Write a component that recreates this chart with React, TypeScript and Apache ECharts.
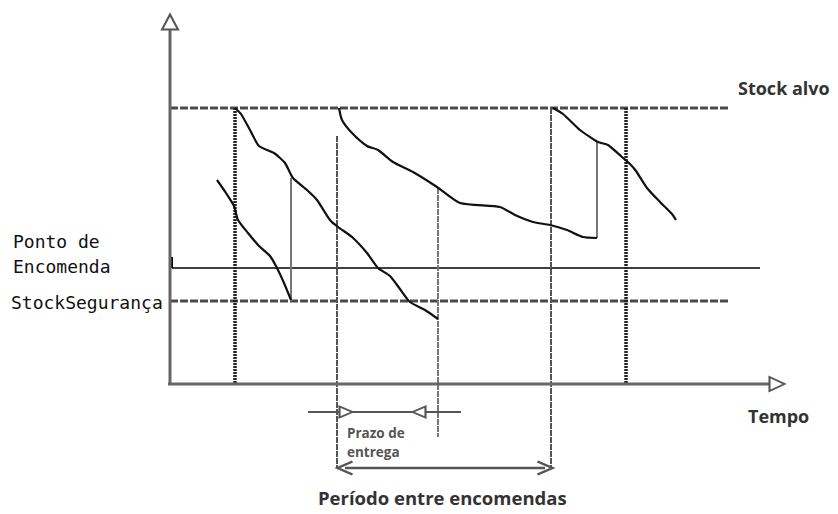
import React, { useEffect, useRef } from "react";
import * as echarts from "echarts";

// Units: time (x) from the stock axis, stock level (y) from the time axis
const STOCK_ALVO = 276;
const PONTO_ENCOMENDA = 116;
const STOCK_SEGURANCA = 83;

const curveA = [[47, 204], [56, 191], [64, 178], [68, 164], [78, 151], [89, 138], [100, 128], [107, 116], [114, 101], [121, 84]];
const curveB = [[65, 276], [71, 270], [80, 254], [89, 238], [104, 231], [115, 221], [123, 206], [137, 194], [147, 184], [160, 164], [168, 157], [182, 147], [197, 131], [208, 116], [220, 108], [230, 95], [240, 82], [255, 74], [268, 65]];
const curveC = [[169, 276], [172, 264], [182, 251], [197, 238], [208, 234], [223, 222], [243, 212], [267, 197], [290, 181], [330, 177], [345, 169], [363, 162], [380, 159], [397, 154], [413, 147], [427, 146]];
const curveD = [[383, 276], [393, 270], [410, 254], [420, 247], [428, 242], [438, 239], [452, 227], [460, 220], [466, 213], [477, 196], [490, 182], [502, 170], [506, 164]];

const orderTimes = [65, 456];        // thick dotted verticals
const periodTimes = [167, 381];      // long dashed verticals
const arrivalLines = [[121, 206, 83], [268, 196, -53], [427, 242, 146]]; // [t, from, to]

const AXIS_TOP = 362;
const AXIS_RIGHT = 607;
const PRAZO_Y = -28;
const PRAZO_SPAN = [138, 176, 249, 291];
const PERIODO_Y = -84;
const PERIODO_SPAN = [175, 375];
const LINE_END = 558;
const PONTO_END = 590;

const seg = (pts: number[][], color: string, width: number, type: any = "solid", z = 2) => ({
  type: "line",
  data: pts,
  symbol: "none",
  silent: true,
  z,
  lineStyle: { color, width, type },
});

export default function App() {
  const ref = useRef<HTMLDivElement>(null);
  useEffect(() => {
    const chart = echarts.init(ref.current!, undefined, { renderer: "svg" });
    const head = (x: number, y: number, rot: number, size: number[]) => ({
      value: [x, y],
      symbol: "triangle",
      symbolSize: size,
      symbolRotate: rot,
      itemStyle: { color: "#fff", borderColor: "#555", borderWidth: 2 },
    });
    const chevron = (x: number, y: number, left: boolean) => ({
      value: [x, y],
      symbol: left ? "path://M10,0 L0,5 L10,10" : "path://M0,0 L10,5 L0,10",
      symbolSize: [15, 13],
      itemStyle: { color: "none", borderColor: "#555", borderWidth: 2.5 },
    });
    const series: any[] = [
      seg([[0, STOCK_ALVO], [LINE_END, STOCK_ALVO]], "#4a4a4a", 3, [8, 2]),
      seg([[0, STOCK_SEGURANCA], [LINE_END, STOCK_SEGURANCA]], "#4a4a4a", 3, [8, 2]),
      seg([[2, PONTO_ENCOMENDA], [PONTO_END, PONTO_ENCOMENDA]], "#000", 1.5),
      seg([[2, PONTO_ENCOMENDA], [2, PONTO_ENCOMENDA + 11]], "#000", 2),
      ...orderTimes.map((t) => seg([[t, STOCK_ALVO], [t, 0]], "#222", 3.5, [2, 1])),
      ...periodTimes.map((t, i) => seg([[t, i === 0 ? 248 : STOCK_ALVO], [t, PERIODO_Y]], "#555", 2, [6, 1])),
      ...arrivalLines.map((a) => seg([[a[0], a[1]], [a[0], a[2]]], "#777", 2, a[2] < 0 ? [6, 1] : "solid")),
      ...[curveA, curveB, curveC, curveD].map((c) => ({
        ...seg(c, "#111", 2.2, "solid", 5),
        smooth: 0.2,
      })),
      {
        type: "line", silent: true, z: 6, symbol: "none", showAllSymbol: true,
        lineStyle: { color: "#666", width: 3 },
        data: [[0, 0], head(0, AXIS_TOP, 0, [16, 15])],
      },
      {
        type: "line", silent: true, z: 6, symbol: "none", showAllSymbol: true,
        lineStyle: { color: "#666", width: 3 },
        data: [[-2, 0], head(AXIS_RIGHT, 0, -90, [14, 15])],
      },
      {
        type: "line", silent: true, z: 6, symbol: "none", showAllSymbol: true,
        lineStyle: { color: "#555", width: 2 },
        data: [
          [PRAZO_SPAN[0], PRAZO_Y],
          head(PRAZO_SPAN[1], PRAZO_Y, -90, [11, 13]),
          head(PRAZO_SPAN[2], PRAZO_Y, 90, [11, 13]),
          [PRAZO_SPAN[3], PRAZO_Y],
        ],
      },
      {
        type: "line", silent: true, z: 6, symbol: "none", showAllSymbol: true,
        lineStyle: { color: "#555", width: 2.5 },
        data: [chevron(PERIODO_SPAN[0], PERIODO_Y, true), chevron(PERIODO_SPAN[1], PERIODO_Y, false)],
      },
    ];
    const bold = (size: number) => `bold ${size}px "Open Sans", sans-serif`;
    const mono = `18px "DejaVu Sans Mono", monospace`;
    chart.setOption({
      animation: false,
      grid: { left: 0, right: 0, top: 0, bottom: 0 },
      xAxis: { type: "value", min: -170, max: 668, show: false },
      yAxis: { type: "value", min: -130, max: 384, show: false },
      series,
      graphic: [
        { type: "text", x: 738, y: 88, style: { text: "Stock alvo", font: bold(18), fill: "#333", verticalAlign: "middle" } },
        { type: "text", x: 748, y: 416, style: { text: "Tempo", font: bold(18), fill: "#333", verticalAlign: "middle" } },
        { type: "text", x: 347, y: 433, style: { text: "Prazo de", font: bold(13.5), fill: "#555", verticalAlign: "middle" } },
        { type: "text", x: 347, y: 452, style: { text: "entrega", font: bold(13.5), fill: "#555", verticalAlign: "middle" } },
        { type: "text", x: 318, y: 497, style: { text: "Período entre encomendas", font: bold(18.5), fill: "#333", verticalAlign: "middle" } },
        { type: "text", x: 13, y: 241, style: { text: "Ponto de", font: mono, fill: "#111", verticalAlign: "middle" } },
        { type: "text", x: 13, y: 266, style: { text: "Encomenda", font: mono, fill: "#111", verticalAlign: "middle" } },
        { type: "text", x: 11, y: 302, style: { text: "StockSegurança", font: mono, fill: "#111", verticalAlign: "middle" } },
      ],
    });
    return () => chart.dispose();
  }, []);
  return <div ref={ref} style={{ position: "absolute", left: 0, top: 0, width: 838, height: 514, background: "#fff" }} />;
}
